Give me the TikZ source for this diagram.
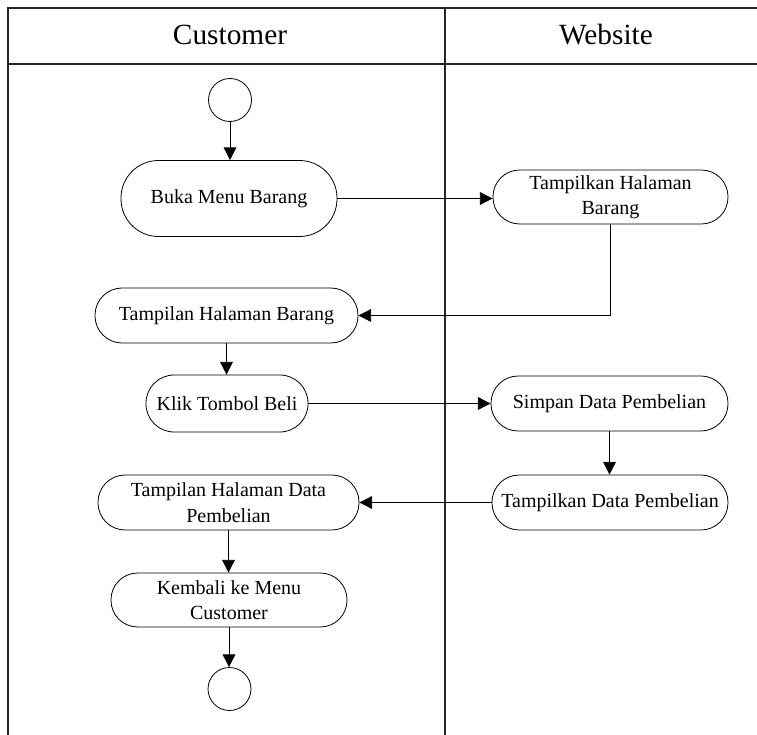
\documentclass[tikz,border=0pt]{standalone}
\usepackage{fontspec}
\setmainfont{Liberation Serif}
\usetikzlibrary{arrows.meta}
\begin{document}
\begin{tikzpicture}[x=0.75pt,y=-0.75pt,
  frame/.style={line width=0.9pt, draw=black!85},
  act/.style 2 args={draw, line width=0.6pt, inner sep=0pt, align=center,
    minimum width=#1*0.75pt, minimum height=#2*0.75pt, rounded corners=#2*0.37pt,
    font=\fontsize{15}{19}\selectfont},
  terminal/.style={draw, circle, line width=0.6pt, minimum size=43*0.75pt, inner sep=0pt},
  hdr/.style={font=\fontsize{22}{26}\selectfont, anchor=base, inner sep=0pt},
  arr/.style={line width=0.6pt, -{Triangle[length=9.5pt,width=9.5pt]}},
  link/.style={line width=0.6pt}]
\useasboundingbox (0,0) rectangle (757,735);
% swimlane frame
\draw[frame] (8,735) -- (8,8) -- (757,8);
\draw[frame] (8,64) -- (757,64);
\draw[frame] (445,8) -- (445,735);
\node[hdr] (hcust) at (230,44.5) {Customer};
\node[hdr] (hweb) at (606,44.5) {Website};
% nodes
\node[terminal] (start) at (230,100) {};
\node[act={216}{76}] (buka) at (229,198.5) {Buka Menu Barang};
\node[act={235}{54}] (thb) at (610.5,197) {Tampilkan Halaman\\Barang};
\node[act={263}{55}] (tamb) at (226.5,315.5) {Tampilan Halaman Barang};
\node[act={162}{57}] (klik) at (227,403.5) {Klik Tombol Beli};
\node[act={237}{55}] (simpan) at (609.5,403.5) {Simpan Data Pembelian};
\node[act={236}{55}] (tdp) at (610,502.5) {Tampilkan Data Pembelian};
\node[act={261}{55}] (tamdata) at (228.5,502.5) {Tampilan Halaman Data\\Pembelian};
\node[act={236}{54}] (kembali) at (229,600) {Kembali ke Menu\\Customer};
\node[terminal] (end) at (229.5,689) {};
% connectors
\draw[arr] (start.south) -- (start.south |- buka.north);
\draw[arr] (buka.east) -- (buka.east -| thb.west);
\draw[arr] (thb.south) |- (tamb.east);
\draw[arr] (tamb.south) -- (tamb.south |- klik.north);
\draw[arr] (klik.east) -- (klik.east -| simpan.west);
\draw[arr] (simpan.south) -- (simpan.south |- tdp.north);
\draw[arr] (tdp.west) -- (tdp.west -| tamdata.east);
\draw[arr] (tamdata.south) -- (tamdata.south |- kembali.north);
\draw[arr] (kembali.south) -- (kembali.south |- end.north);
\end{tikzpicture}
\end{document}
